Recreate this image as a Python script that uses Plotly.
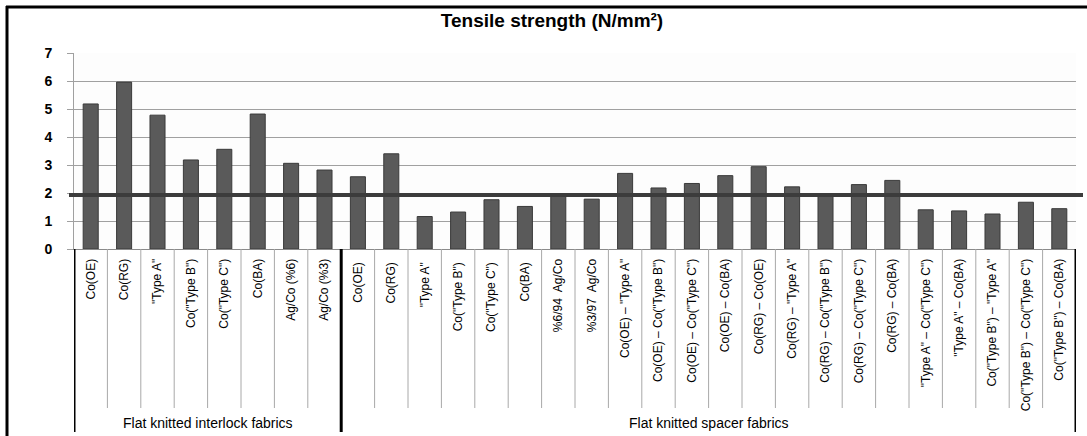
import plotly.graph_objects as go

categories = [
    'Co(OE)', 'Co(RG)', '"Type A"', 'Co("Type B")', 'Co("Type C")', 'Co(BA)',
    'Ag/Co (%6)', 'Ag/Co (%3)',
    'Co(OE) ', 'Co(RG) ', '"Type A" ', 'Co("Type B") ', 'Co("Type C") ', 'Co(BA) ',
    '%6/94  Ag/Co', '%3/97  Ag/Co',
    'Co(OE) – "Type A"', 'Co(OE) – Co("Type B")', 'Co(OE) – Co("Type C")',
    'Co(OE) – Co(BA)', 'Co(RG) – Co(OE)', 'Co(RG) – "Type A"',
    'Co(RG) – Co("Type B")', 'Co(RG) – Co("Type C")', 'Co(RG) – Co(BA)',
    '"Type A" – Co("Type C")', '"Type A" – Co(BA)', 'Co("Type B") – "Type A"',
    'Co("Type B") – Co("Type C")', 'Co("Type B") – Co(BA)',
]
values = [
    5.18, 5.96, 4.78, 3.18, 3.56, 4.82, 3.06, 2.82,
    2.58, 3.40, 1.16, 1.32, 1.76, 1.52, 1.88, 1.78,
    2.70, 2.18, 2.34, 2.62, 2.94, 2.22, 1.88, 2.30, 2.45,
    1.40, 1.36, 1.25, 1.67, 1.44,
]
group_labels = ['Flat knitted interlock fabrics', 'Flat knitted spacer fabrics']
group_sizes = [8, 22]
threshold = 1.93
title_text = 'Tensile strength (N/mm²)'

# pixel geometry helpers
L, R, T, B = 74, 1076, 53, 249
W, H = 1087, 436
def px(p):
    return (p - L) / (R - L)
def py(p):
    return (B - p) / (B - T)

FONT = 'Arial, Liberation Sans, sans-serif'

fig = go.Figure()
fig.add_trace(go.Bar(
    x=list(range(len(categories))), y=values,
    marker=dict(color='#5a5a5a', line=dict(color='#3a3a3a', width=1)),
    width=0.45, hoverinfo='y',
))

shapes = []
# threshold line
shapes.append(dict(type='line', xref='paper', yref='y', x0=px(69), x1=px(1083),
                   y0=threshold, y1=threshold, line=dict(color='#3c3c3c', width=4), layer='above'))
# category separators in label area
n = len(categories)
bounds = [-0.5]
acc = -0.5
for s in group_sizes:
    acc += s
    bounds.append(acc)
for k in range(n + 1):
    xb = k - 0.5
    if xb in bounds:
        continue
    shapes.append(dict(type='line', xref='x', yref='paper', x0=xb, x1=xb,
                       y0=0, y1=py(408), line=dict(color='#a8a8a8', width=1)))
for xb in bounds:
    shapes.append(dict(type='line', xref='x', yref='paper', x0=xb, x1=xb,
                       y0=0, y1=py(432), line=dict(color='black', width=3)))
# outer frame (top and left)
shapes.append(dict(type='line', xref='paper', yref='paper', x0=px(6), x1=px(1090),
                   y0=py(7), y1=py(7), line=dict(color='black', width=3)))
shapes.append(dict(type='line', xref='paper', yref='paper', x0=px(7), x1=px(7),
                   y0=py(6), y1=py(440), line=dict(color='black', width=3)))

annotations = []
start = 0
for lab, s in zip(group_labels, group_sizes):
    annotations.append(dict(text=lab, xref='x', yref='paper', x=start + (s - 1) / 2,
                            y=py(423), showarrow=False, yanchor='middle',
                            font=dict(family=FONT, size=14, color='black')))
    start += s

fig.update_layout(
    width=W, height=H,
    margin=dict(l=L, r=W - R, t=T, b=H - B, pad=0),
    paper_bgcolor='white', plot_bgcolor='#fdfdfd',
    showlegend=False,
    bargap=0.55,
    title=dict(text='<b>' + title_text + '</b>', x=552 / W, xanchor='center',
               y=1 - 20 / H, yanchor='middle', automargin=False,
               font=dict(family=FONT, size=19, color='black')),
    xaxis=dict(
        tickmode='array', tickvals=list(range(n)), ticktext=categories,
        tickangle=-90, range=[-0.5, n - 0.5], automargin=False,
        showgrid=False, showline=True, linecolor='#8a8a8a', linewidth=1,
        ticks='', tickfont=dict(family=FONT, size=12, color='black'),
        ticklabelstandoff=4,
    ),
    yaxis=dict(
        range=[0, 7], tickvals=list(range(8)), showgrid=True, gridcolor='#a0a0a0',
        gridwidth=1, showline=True, linecolor='#a0a0a0', ticks='outside', ticklen=6,
        tickcolor='#a0a0a0', zeroline=False, automargin=False,
        tickfont=dict(family=FONT, size=14, color='black', weight='bold'),
        ticklabelstandoff=12,
    ),
    shapes=shapes, annotations=annotations,
)
fig.write_html('out.html', config={'displayModeBar': False},
               post_script="document.body.style.margin='0';document.body.style.overflow='hidden';")
